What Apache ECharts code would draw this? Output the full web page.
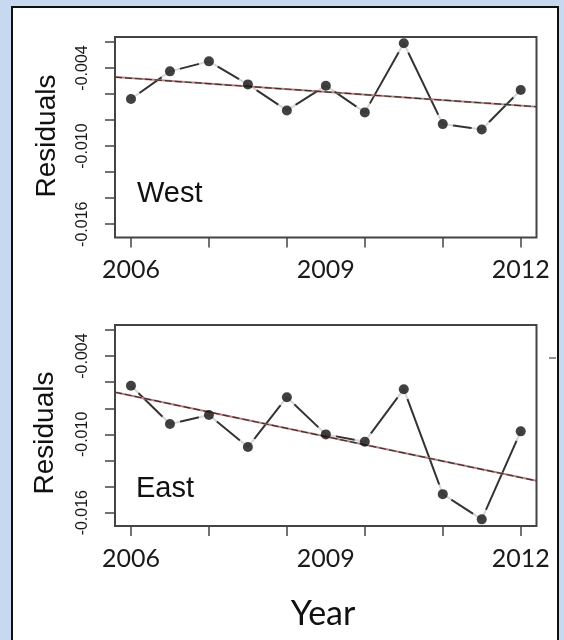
<!DOCTYPE html>
<html>
<head>
<meta charset="utf-8">
<script src="https://cdn.jsdelivr.net/npm/echarts@6/dist/echarts.min.js"></script>
<style>
  html, body { margin: 0; padding: 0; background: #c6d9f1; }
  #frame { position: absolute; left: 11px; top: 6px; width: 544px; height: 700px; background: #fff; border: 2px solid #111; }
  #chart { position: absolute; left: 0; top: 0; width: 564px; height: 640px; }
</style>
</head>
<body>
<div id="frame"></div>
<div id="chart"></div>
<script>
// ---- data ----
const years = [2006, 2006.6, 2007.2, 2007.8, 2008.4, 2009.0, 2009.6, 2010.2, 2010.8, 2011.4, 2012];
const west = [-0.00638, -0.00426, -0.00349, -0.00526, -0.00726, -0.00536, -0.00741, -0.0021, -0.00831, -0.00872, -0.00569];
const east = [-0.00628, -0.0092, -0.00851, -0.01097, -0.00715, -0.0100, -0.01056, -0.00654, -0.01458, -0.01651, -0.00977];
const trendYears = [2005.754, 2012.243];
const westTrend = [-0.0047, -0.00697];
const eastTrend = [-0.00677, -0.01356];
const xTickValues = [2006, 2007.2, 2008.4, 2009.6, 2010.8, 2012];
const xLabelValues = [2006, 2009, 2012];
const yTickValues = [-0.002, -0.004, -0.006, -0.008, -0.010, -0.012, -0.014, -0.016];
const yLabelValues = [-0.004, -0.010, -0.016];
const panelNames = ['West', 'East'];

const pairs = (xs, ys) => xs.map((x, i) => [x, ys[i]]);

const axisColor = '#444';
function xAxis(idx) {
  return {
    type: 'value', gridIndex: idx, min: 2005.754, max: 2012.243,
    axisLine: { show: false },
    splitLine: { show: false },
    axisTick: { show: true, length: 10, customValues: xTickValues, lineStyle: { color: axisColor, width: 1.5 } },
    axisLabel: { customValues: xLabelValues, margin: 20, color: '#1a1a1a', fontFamily: 'Lato', fontSize: 25, formatter: v => String(Math.round(v)) }
  };
}
function yAxis(idx) {
  return {
    type: 'value', gridIndex: idx, min: -0.01702, max: -0.00162,
    axisLine: { show: false },
    splitLine: { show: false },
    axisTick: { show: true, length: 10, customValues: yTickValues, lineStyle: { color: axisColor, width: 1.5 } },
    axisLabel: { customValues: yLabelValues, rotate: 90, margin: 24, color: '#1a1a1a', fontFamily: 'Liberation Sans', fontSize: 16, formatter: v => v.toFixed(3) }
  };
}
function panelSeries(idx, vals, trend) {
  return [
    { type: 'line', xAxisIndex: idx, yAxisIndex: idx, data: pairs(years, vals), showSymbol: false, z: 1,
      lineStyle: { color: '#333', width: 2 }, silent: true, animation: false },
    { type: 'scatter', xAxisIndex: idx, yAxisIndex: idx, data: pairs(years, vals), symbolSize: 21, z: 2,
      itemStyle: { color: '#fff' }, silent: true, animation: false },
    { type: 'line', xAxisIndex: idx, yAxisIndex: idx, data: pairs(trendYears, trend), showSymbol: false, z: 3,
      lineStyle: { color: '#c08080', width: 2 }, silent: true, animation: false },
    { type: 'line', xAxisIndex: idx, yAxisIndex: idx, data: pairs(trendYears, trend), showSymbol: false, z: 4,
      lineStyle: { color: '#333', width: 1.2, type: [7, 3] }, silent: true, animation: false },
    { type: 'scatter', xAxisIndex: idx, yAxisIndex: idx, data: pairs(years, vals), symbolSize: 10, z: 5,
      itemStyle: { color: '#111' }, silent: true, animation: false }
  ];
}

const chart = echarts.init(document.getElementById('chart'), null, { renderer: 'canvas' });
chart.setOption({
  backgroundColor: 'transparent',
  animation: false,
  grid: [
    { left: 115, right: 27.5, top: 37, height: 200.5, show: true, borderColor: axisColor, borderWidth: 2, z: 10 },
    { left: 115, right: 27.5, top: 325, height: 201, show: true, borderColor: axisColor, borderWidth: 2, z: 10 }
  ],
  xAxis: [xAxis(0), xAxis(1)],
  yAxis: [yAxis(0), yAxis(1)],
  series: [].concat(panelSeries(0, west, westTrend), panelSeries(1, east, eastTrend)),
  graphic: [
    { type: 'text', x: 47, y: 136, rotation: Math.PI / 2,
      style: { text: 'Residuals', fontFamily: 'Liberation Sans', fontSize: 28, fill: '#111', textAlign: 'center', textVerticalAlign: 'middle' } },
    { type: 'text', x: 45, y: 433, rotation: Math.PI / 2,
      style: { text: 'Residuals', fontFamily: 'Liberation Sans', fontSize: 28, fill: '#111', textAlign: 'center', textVerticalAlign: 'middle' } },
    { type: 'text', x: 137, y: 194,
      style: { text: panelNames[0], fontFamily: 'Liberation Sans', fontSize: 29, fill: '#111', textAlign: 'left', textVerticalAlign: 'middle' } },
    { type: 'text', x: 136, y: 489,
      style: { text: panelNames[1], fontFamily: 'Liberation Sans', fontSize: 29, fill: '#111', textAlign: 'left', textVerticalAlign: 'middle' } },
    { type: 'text', x: 323, y: 614,
      style: { text: 'Year', fontFamily: 'Lato', fontSize: 34, fill: '#111', textAlign: 'center', textVerticalAlign: 'middle' } },
    { type: 'line', shape: { x1: 549, y1: 358, x2: 556, y2: 358 }, style: { stroke: '#222', lineWidth: 1 } }
  ]
});
</script>
</body>
</html>
